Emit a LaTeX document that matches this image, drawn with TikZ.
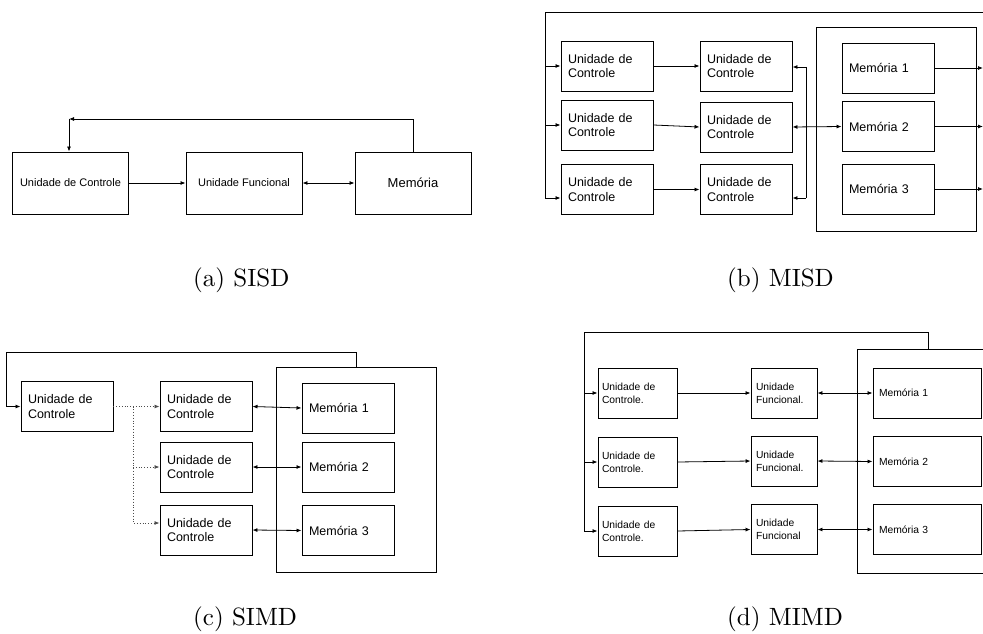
\documentclass[tikz,border=0pt]{standalone}
\usepackage{fontspec}
\newfontfamily\arial{Liberation Sans}
\newfontfamily\capfont{lmroman10-regular.otf}
\usetikzlibrary{arrows.meta}
\begin{document}
\begin{tikzpicture}[x=1pt,y=-1pt,
  >={Latex[length=5pt,width=4pt]},
  frame/.style={draw, line width=0.95pt, inner ysep=0pt},
  conn/.style={line width=0.8pt},
  arr/.style={conn,->},
  darr/.style={conn,<->},
  dots/.style={conn,dotted,->,draw=black!70},
  abox/.style={frame, minimum width=116pt, minimum height=62pt, inner xsep=0pt, font=\arial\fontsize{11}{13}\selectfont},
  bbox/.style={frame, text width=78pt, inner xsep=7pt, minimum height=50pt, align=left, font=\arial\fontsize{12.5}{14.5}\selectfont},
  dboxa/.style={frame, text width=71pt, inner xsep=4pt, minimum height=50pt, align=left, font=\arial\fontsize{10.3}{13}\selectfont},
  dboxb/.style={frame, text width=56pt, inner xsep=5pt, minimum height=50pt, align=left, font=\arial\fontsize{10.3}{13}\selectfont},
  dmem/.style={frame, text width=96pt, inner xsep=6pt, minimum height=50pt, align=left, font=\arial\fontsize{10.3}{13}\selectfont},
  outer/.style={frame, inner sep=0pt},
  capt/.style={anchor=base west, inner sep=0pt, font=\capfont\fontsize{25}{29}\selectfont}
]
\useasboundingbox (0,0) rectangle (983,634);

% ---------------- (a) SISD ----------------
\node[abox] (aUC) at (70.5,183) {Unidade de Controle};
\node[abox] (aUF) at (244,183) {Unidade Funcional};
\node[abox, font=\arial\fontsize{13}{15}\selectfont] (aM) at (413,183) {Memória};
\draw[arr] (aUC.east) -- (aUF.west);
\draw[darr] (aUF.east) -- (aM.west);
\coordinate (aK) at (69,119);
\draw[arr] (aM.north) |- (aK);
\draw[arr] (aK) -- (aK |- aUC.north);
\node[capt] (capa) at (193,286) {(a) SISD};

% ---------------- (b) MISD ----------------
\coordinate (bTR) at (983,12);
\coordinate (bTL) at (545,12);
\node[bbox] (b11) at (607,66) {Unidade de\\Controle};
\node[bbox] (b12) at (607,125) {Unidade de\\Controle};
\node[bbox] (b13) at (607,189.5) {Unidade de\\Controle};
\node[bbox] (b21) at (746,66) {Unidade de\\Controle};
\node[bbox] (b22) at (746,127) {Unidade de\\Controle};
\node[bbox] (b23) at (746,189.5) {Unidade de\\Controle};
\node[outer, minimum width=160pt, minimum height=204pt] (bM) at (896,129) {};
\node[bbox] (bm1) at (888,68) {Memória 1};
\node[bbox] (bm2) at (888,126.5) {Memória 2};
\node[bbox] (bm3) at (888,189) {Memória 3};
\coordinate (bL3) at (545,198);
\draw[arr] (bTR) -- (bTL) -- (bL3) -- (b13.west |- bL3);
\draw[arr] (bTL |- b11.west) -- (b11.west);
\draw[arr] (bTL |- b12.west) -- (b12.west);
\draw[arr] (b11.east) -- (b21.west);
\draw[arr] (b12.east) -- (b22.west);
\draw[arr] (b13.east) -- (b23.west);
\coordinate (bR1) at (806,67);
\coordinate (bR3) at (806,198);
\draw[conn] (bR1) -- (bR3);
\draw[arr] (bR1) -- (b21.east |- bR1);
\draw[arr] (bR3) -- (b23.east |- bR3);
\draw[darr] (b22.east) -- (bm2.west);
\draw[arr] (bm1.east) -- (bm1.east -| bTR);
\draw[arr] (bm2.east) -- (bm2.east -| bTR);
\draw[arr] (bm3.east) -- (bm3.east -| bTR);
\node[capt] (capb) at (727,286) {(b) MISD};

% ---------------- (c) SIMD ----------------
\coordinate (cT1) at (6,352);
\coordinate (cT2) at (356,352);
\node[bbox] (cUC) at (67,406.5) {Unidade de\\Controle};
\node[bbox] (c21) at (206,406.5) {Unidade de\\Controle};
\node[bbox] (c22) at (206,467) {Unidade de\\Controle};
\node[bbox] (c23) at (206,530) {Unidade de\\Controle};
\node[outer, minimum width=160pt, minimum height=205pt] (cM) at (356,469.5) {};
\node[bbox] (cm1) at (348,408) {Memória 1};
\node[bbox] (cm2) at (348,467) {Memória 2};
\node[bbox] (cm3) at (348,530.5) {Memória 3};
\draw[arr] (cM.north) -- (cT2) -- (cT1) -- (cT1 |- cUC.west) -- (cUC.west);
\coordinate (cB) at (133,406.5);
\coordinate (cB3) at (133,523);
\draw[dots] (cUC.east) -- (c21.west);
\draw[dots] (cB) -- (cB3) -- (c23.west |- cB3);
\draw[dots] (cB |- c22.west) -- (c22.west);
\draw[darr] (c21.east) -- (cm1.west);
\draw[darr] (c22.east) -- (cm2.west);
\draw[darr] (c23.east) -- (cm3.west);
\node[capt] (capc) at (193,625) {(c) SIMD};

% ---------------- (d) MIMD ----------------
\coordinate (dT1) at (584,332);
\coordinate (dT2) at (928,332);
\coordinate (dT3) at (928,349);
\coordinate (dO1) at (983,349);
\coordinate (dO2) at (857,349);
\coordinate (dO3) at (857,573);
\coordinate (dO4) at (983,573);
\draw[frame] (dO1) -- (dO2) -- (dO3) -- (dO4);
\node[dboxa] (d11) at (637.5,393) {Unidade de\\Controle.};
\node[dboxa] (d12) at (637.5,462) {Unidade de\\Controle.};
\node[dboxa] (d13) at (637.5,531) {Unidade de\\Controle.};
\node[dboxb] (d21) at (784,393) {Unidade\\Funcional.};
\node[dboxb] (d22) at (784,461) {Unidade\\Funcional.};
\node[dboxb] (d23) at (784,529.5) {Unidade\\Funcional};
\node[dmem] (dm1) at (927,393) {Memória 1};
\node[dmem] (dm2) at (927,461.5) {Memória 2};
\node[dmem] (dm3) at (927,529.5) {Memória 3};
\draw[arr] (dT3) -- (dT2) -- (dT1) -- (dT1 |- d13.west) -- (d13.west);
\draw[arr] (dT1 |- d11.west) -- (d11.west);
\draw[arr] (dT1 |- d12.west) -- (d12.west);
\draw[arr] (d11.east) -- (d21.west);
\draw[arr] (d12.east) -- (d22.west);
\draw[arr] (d13.east) -- (d23.west);
\draw[darr] (d21.east) -- (dm1.west);
\draw[darr] (d22.east) -- (dm2.west);
\draw[darr] (d23.east) -- (dm3.west);
\node[capt] (capd) at (727,625) {(d) MIMD};
\end{tikzpicture}
\end{document}
